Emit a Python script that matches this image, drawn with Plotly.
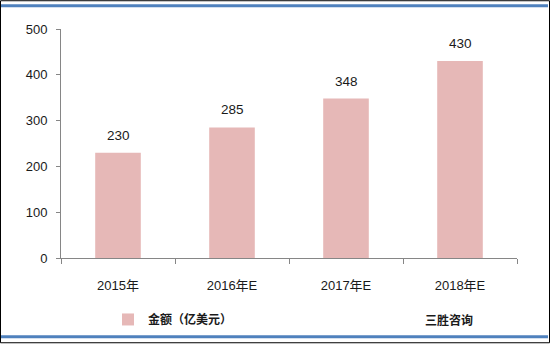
import plotly.graph_objects as go

categories = ["2015年", "2016年E", "2017年E", "2018年E"]
values = [230, 285, 348, 430]
series_name = "金额（亿美元）"
source_text = "三胜咨询"
y_ticks = [0, 100, 200, 300, 400, 500]

W, H = 550, 346
L, R, T, B = 61, 33, 29, 86
pw, ph = W - L - R, H - T - B

def xp(px):
    return (px - L) / pw

def yp(py):
    return (H - B - py) / ph

font_main = "Liberation Sans, Arial, Noto Sans CJK SC, sans-serif"

fig = go.Figure()
fig.add_trace(go.Bar(
    x=categories, y=values, name=series_name,
    marker=dict(color="#E6B8B7", line=dict(width=0)),
    width=0.4, showlegend=True,
))

for c, v in zip(categories, values):
    fig.add_annotation(x=c, y=v, text=str(v), showarrow=False,
                       yanchor="bottom", yshift=8,
                       font=dict(size=13.5, color="#1a1a1a", family=font_main))

fig.add_annotation(xref="paper", yref="paper", x=xp(449), y=yp(322),
                   text="<b>" + source_text + "</b>", showarrow=False,
                   xanchor="center", yanchor="middle",
                   font=dict(size=12, color="#1a1a1a", family="Noto Sans CJK SC"))

shapes = [
    dict(type="rect", xref="paper", yref="paper", x0=xp(0.5), x1=xp(549.5),
         y0=yp(0.5), y1=yp(345.5), line=dict(color="#000000", width=1)),
    dict(type="line", xref="paper", yref="paper", x0=xp(1), x1=xp(548),
         y0=yp(5.5), y1=yp(5.5), line=dict(color="#4F81BD", width=3)),
    dict(type="line", xref="paper", yref="paper", x0=xp(1), x1=xp(548),
         y0=yp(339.5), y1=yp(339.5), line=dict(color="#4F81BD", width=3)),
]

fig.update_layout(
    width=W, height=H,
    margin=dict(l=L, r=R, t=T, b=B),
    paper_bgcolor="white", plot_bgcolor="white",
    font=dict(family=font_main, size=12, color="#1a1a1a"),
    shapes=shapes,
    bargap=0.6,
    legend=dict(orientation="h", x=xp(108), y=yp(322), xanchor="left", yanchor="middle",
                font=dict(size=12, family="Noto Sans CJK SC", color="#1a1a1a",
                          weight="bold"),
                itemwidth=30, bgcolor="rgba(0,0,0,0)"),
    xaxis=dict(type="category", showline=True, linecolor="#868686", linewidth=1,
               ticks="outside", tickson="boundaries", ticklen=5, tickcolor="#868686",
               tickfont=dict(size=13), showgrid=False, zeroline=False,
               ticklabelstandoff=15),
    yaxis=dict(range=[0, 500], tickvals=y_ticks, showline=True, linecolor="#868686",
               linewidth=1, ticks="outside", ticklen=4, tickcolor="#868686",
               tickfont=dict(size=13), showgrid=False, zeroline=False, ticklabelstandoff=6),
)

fig.write_html("out.html")
